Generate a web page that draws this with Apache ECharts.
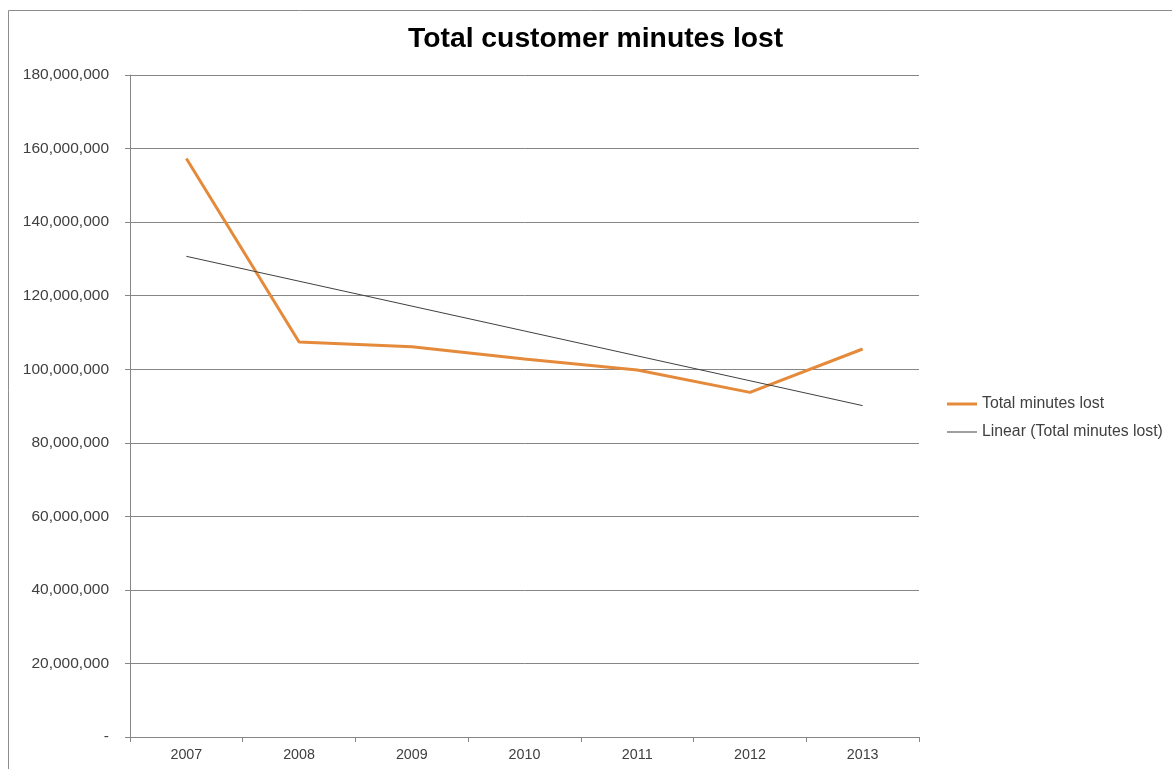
<!DOCTYPE html>
<html>
<head>
<meta charset="utf-8">
<script src="https://cdn.jsdelivr.net/npm/echarts@6/dist/echarts.min.js"></script>
<style>
html,body{margin:0;padding:0;background:#fff;}
#c{width:1172px;height:769px;}
</style>
</head>
<body>
<div id="c"></div>
<script>
const categories = ['2007','2008','2009','2010','2011','2012','2013'];
const minutesLost = [157300000, 107400000, 106100000, 102800000, 99800000, 93700000, 105500000];
const linearTrend = [130700000, null, null, null, null, null, 90100000];
const yTicks = { min: 0, max: 180000000, interval: 20000000 };

const chart = echarts.init(document.getElementById('c'));
const font = '"Liberation Sans", Arial, sans-serif';
chart.setOption({
  animation: false,
  backgroundColor: '#fff',
  graphic: [{
    type: 'rect', shape: { x: 8.5, y: 10.5, width: 1200, height: 800 },
    style: { fill: 'none', stroke: '#8c8c8c', lineWidth: 1 }, silent: true, z: -1
  }],
  title: {
    text: 'Total customer minutes lost',
    left: 403, top: 20,
    textStyle: { fontFamily: font, fontSize: 28.3, fontWeight: 'bold', color: '#000' }
  },
  legend: {
    orient: 'vertical', left: 942, top: 391, itemGap: 12,
    itemWidth: 30, itemHeight: 16,
    textStyle: { fontFamily: font, fontSize: 15.8, color: '#404040' },
    data: [
      { name: 'Total minutes lost', icon: 'path://M0,0 L30,0 L30,3 L0,3 Z' },
      { name: 'Linear (Total minutes lost)', icon: 'path://M0,0 L30,0 L30,1 L0,1 Z' }
    ]
  },
  grid: { left: 130, top: 75, right: 253, bottom: 32, containLabel: false },
  xAxis: {
    type: 'category', data: categories, boundaryGap: true,
    axisLine: { lineStyle: { color: '#868686', width: 1 } },
    axisTick: { show: true, inside: false, length: 5, alignWithLabel: false, lineStyle: { color: '#868686' } },
    axisLabel: { fontFamily: font, fontSize: 14.3, color: '#404040', margin: 11 },
    splitLine: { show: false }
  },
  yAxis: {
    type: 'value', min: yTicks.min, max: yTicks.max, interval: yTicks.interval,
    axisLine: { show: true, lineStyle: { color: '#868686', width: 1 } },
    axisTick: { show: true, inside: false, length: 5, lineStyle: { color: '#868686' } },
    axisLabel: {
      fontFamily: font, fontSize: 15.5, color: '#404040', margin: 21,
      formatter: v => v === 0 ? '-' : v.toLocaleString('en-US')
    },
    splitLine: { show: true, lineStyle: { color: '#868686', width: 1 } }
  },
  series: [
    {
      name: 'Total minutes lost', type: 'line', data: minutesLost,
      symbol: 'none', itemStyle: { color: '#E48A3A' },
      lineStyle: { color: '#E48A3A', width: 3 }, z: 3
    },
    {
      name: 'Linear (Total minutes lost)', type: 'line', data: linearTrend,
      connectNulls: true, symbol: 'none', itemStyle: { color: '#404040' },
      lineStyle: { color: '#404040', width: 1 }, z: 4
    }
  ]
});
</script>
</body>
</html>
